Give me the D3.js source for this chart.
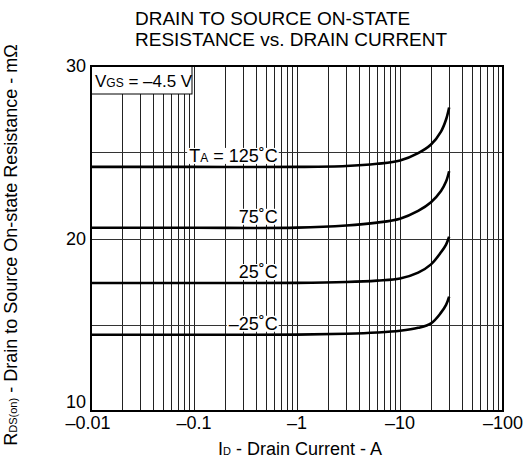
<!DOCTYPE html>
<html>
<head>
<meta charset="utf-8">
<script src="https://cdn.jsdelivr.net/npm/d3@7"></script>
<style>
  body { margin: 0; background: #fff; }
  text { font-family: "Liberation Sans", Arial, sans-serif; fill: #000; }
</style>
</head>
<body>
<div class="canvas"></div>
<script>
// drain current magnitude (A)
const currents = [0.01, 0.1, 1, 3, 6, 10, 15, 20, 25, 28, 30];
const r125 = [24.15, 24.15, 24.15, 24.2, 24.33, 24.52, 24.95, 25.45, 26.2, 26.9, 27.6];
const r75 = [20.62, 20.62, 20.63, 20.75, 20.92, 21.15, 21.6, 22.1, 22.75, 23.3, 23.9];
const r25 = [17.42, 17.42, 17.43, 17.48, 17.56, 17.68, 18.02, 18.5, 19.2, 19.65, 20.1];
const rm25 = [14.42, 14.42, 14.43, 14.48, 14.55, 14.65, 14.82, 15.08, 15.7, 16.15, 16.63];
const seriesLabels = ['125˚C', '75˚C', '25˚C', '–25˚C'];
const xTickValues = [0.01, 0.1, 1, 10, 100];
const xTickLabels = ['–0.01', '–0.1', '–1', '–10', '–100'];
const yTickValues = [10, 20, 30];
const yGridValues = [15, 20, 25];

const W = 532, H = 464;
const margin = { top: 66, right: 29, bottom: 53, left: 91 };
const iw = W - margin.left - margin.right;
const ih = H - margin.top - margin.bottom;

const svg = d3.select('.canvas')
  .append('svg')
  .attr('width', W)
  .attr('height', H);

const x = d3.scaleLog().domain([0.01, 100]).range([0, iw]);
const y = d3.scaleLinear().domain([10, 30]).range([ih, 0]);

const graph = svg.append('g')
  .attr('transform', `translate(${margin.left}, ${margin.top})`);

// grid
graph.selectAll('.vgrid')
  .data(x.ticks())
  .enter().append('line')
  .attr('x1', d => Math.round(x(d)) + 0.5).attr('x2', d => Math.round(x(d)) + 0.5)
  .attr('y1', 0).attr('y2', ih)
  .attr('stroke', '#222').attr('stroke-width', 1);

graph.selectAll('.hgrid')
  .data(yGridValues)
  .enter().append('line')
  .attr('x1', 0).attr('x2', iw)
  .attr('y1', d => Math.round(y(d)) + 0.5).attr('y2', d => Math.round(y(d)) + 0.5)
  .attr('stroke', '#333').attr('stroke-width', 1);

// curves
const line = d3.line()
  .x((d, i) => x(currents[i]))
  .y(d => y(d))
  .curve(d3.curveCatmullRom.alpha(0.5));

const series = [r125, r75, r25, rm25];
graph.selectAll('.curve')
  .data(series)
  .enter().append('path')
  .attr('d', d => line(d))
  .attr('fill', 'none')
  .attr('stroke', '#000')
  .attr('stroke-width', 2.6);

// curve labels with white background
series.forEach((s, i) => {
  const g = graph.append('g');
  const t = g.append('text')
    .attr('x', x(0.65))
    .attr('y', y(s[0]) - 5)
    .attr('text-anchor', 'end')
    .attr('font-size', 18);
  if (i === 0) {
    t.append('tspan').text('T');
    t.append('tspan').attr('font-size', 12).text('A');
    t.append('tspan').text(' = ' + seriesLabels[i]);
  } else {
    t.text(seriesLabels[i]);
  }
  const bb = t.node().getBBox();
  g.insert('rect', 'text')
    .attr('x', bb.x - 2).attr('y', bb.y + 2)
    .attr('width', bb.width + 3).attr('height', bb.height - 4)
    .attr('fill', '#fff');
});

// VGS box
const vbox = graph.append('g');
vbox.append('rect')
  .attr('x', 0).attr('y', 0)
  .attr('width', x(0.1) - 2).attr('height', 28)
  .attr('fill', '#fff').attr('stroke', '#000').attr('stroke-width', 1);
const vt = vbox.append('text')
  .attr('x', 4).attr('y', 21)
  .attr('font-size', 17);
vt.append('tspan').text('V');
vt.append('tspan').attr('font-size', 12).text('GS');
vt.append('tspan').text(' = –4.5 V');

// frame
graph.append('rect')
  .attr('x', 0).attr('y', 0)
  .attr('width', iw).attr('height', ih)
  .attr('fill', 'none').attr('stroke', '#000').attr('stroke-width', 2);

// x tick labels
graph.selectAll('.xlab')
  .data(xTickValues)
  .enter().append('text')
  .attr('x', (d, i) => x(d) - (i === 0 ? 3 : 0))
  .attr('y', ih + 18)
  .attr('text-anchor', 'middle')
  .attr('font-size', 18)
  .text((d, i) => xTickLabels[i]);

// y tick labels
graph.selectAll('.ylab')
  .data(yTickValues)
  .enter().append('text')
  .attr('x', -5)
  .attr('y', d => y(d) + (d === 10 ? -3 : 6))
  .attr('text-anchor', 'end')
  .attr('font-size', 18)
  .text(d => d);

// x axis title
const xt = svg.append('text')
  .attr('x', margin.left + iw / 2 + 3)
  .attr('y', 455)
  .attr('text-anchor', 'middle')
  .attr('font-size', 18);
xt.append('tspan').text('I');
xt.append('tspan').attr('font-size', 11).text('D');
xt.append('tspan').text(' - Drain Current - A');

// y axis title
const yt = svg.append('text')
  .attr('transform', `translate(17, 245) rotate(-90)`)
  .attr('text-anchor', 'middle')
  .attr('font-size', 18);
yt.append('tspan').text('R');
yt.append('tspan').attr('font-size', 11).text('DS(on)');
yt.append('tspan').text(' - Drain to Source On-state Resistance - mΩ');

// title
svg.append('text')
  .attr('x', 135).attr('y', 25)
  .attr('font-size', 19)
  .text('DRAIN TO SOURCE ON-STATE');
svg.append('text')
  .attr('x', 135).attr('y', 46)
  .attr('font-size', 19)
  .text('RESISTANCE vs. DRAIN CURRENT');
</script>
</body>
</html>
